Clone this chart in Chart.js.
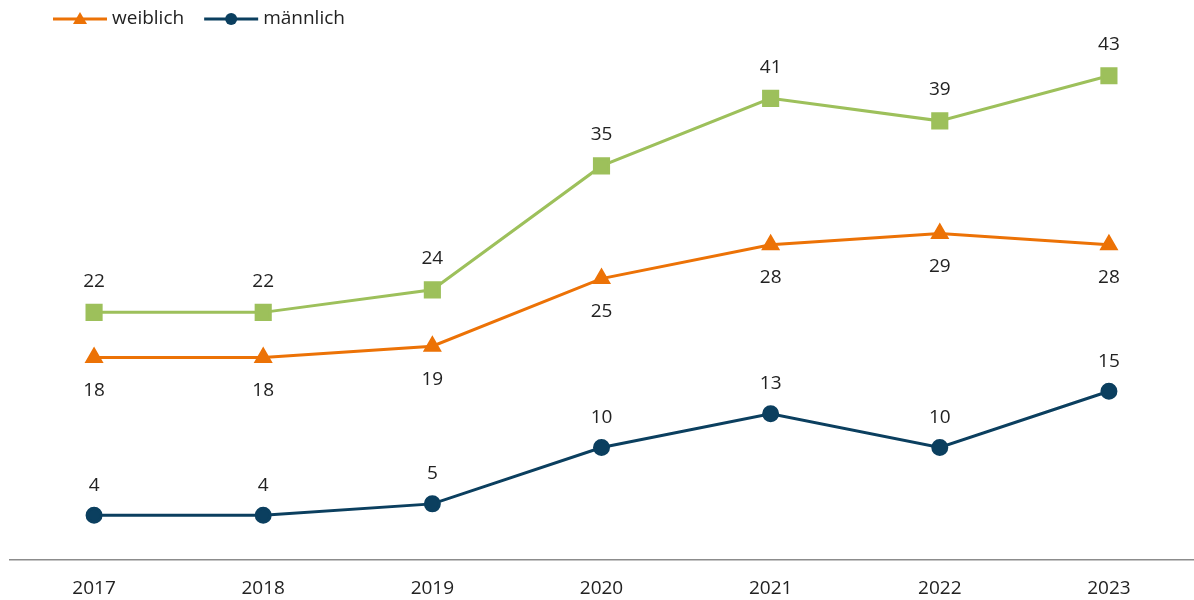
<!DOCTYPE html>
<html>
<head>
<meta charset="utf-8">
<script src="https://cdn.jsdelivr.net/npm/chart.js@4"></script>
<style>
  html, body { margin: 0; padding: 0; background: #fff; }
  #wrap { width: 1194px; height: 600px; }
</style>
</head>
<body>
<div id="wrap"><canvas id="chart" width="1194" height="600"></canvas></div>
<script>
// Jahre und Werte je Gruppe
const years = ['2017', '2018', '2019', '2020', '2021', '2022', '2023'];
const gesamt = [22, 22, 24, 35, 41, 39, 43];
const weiblich = [18, 18, 19, 25, 28, 29, 28];
const maennlich = [4, 4, 5, 10, 13, 10, 15];

const FONT = "'Open Sans', 'Noto Sans', sans-serif";
const TEXT = '#222';
const SIZE = 19;

// Wertelabels über bzw. unter den Punkten
const valueLabels = {
  id: 'valueLabels',
  afterDatasetsDraw(chart) {
    const ctx = chart.ctx;
    ctx.save();
    ctx.font = SIZE + 'px ' + FONT;
    ctx.fillStyle = TEXT;
    ctx.textAlign = 'center';
    ctx.textBaseline = 'middle';
    chart.data.datasets.forEach((ds, i) => {
      const meta = chart.getDatasetMeta(i);
      const off = ds.labelOffset;
      meta.data.forEach((pt, j) => {
        ctx.fillText(String(ds.data[j]), pt.x, pt.y + off);
      });
    });
    ctx.restore();
  }
};

// Legende mit Linie und Marker, nur für weiblich/männlich
const lineLegend = {
  id: 'lineLegend',
  afterDraw(chart) {
    const ctx = chart.ctx;
    ctx.save();
    ctx.font = SIZE + 'px ' + FONT;
    ctx.textBaseline = 'middle';
    let x = 53;
    const y = 19;
    chart.data.datasets.forEach(ds => {
      if (!ds.inLegend) return;
      ctx.strokeStyle = ds.borderColor;
      ctx.lineWidth = 3;
      ctx.beginPath();
      ctx.moveTo(x, y);
      ctx.lineTo(x + 54, y);
      ctx.stroke();
      ctx.fillStyle = ds.borderColor;
      const cx = x + 27;
      ctx.beginPath();
      if (ds.pointStyle === 'triangle') {
        ctx.moveTo(cx, y - 7);
        ctx.lineTo(cx + 7, y + 5);
        ctx.lineTo(cx - 7, y + 5);
        ctx.closePath();
      } else {
        ctx.arc(cx, y, 6, 0, Math.PI * 2);
      }
      ctx.fill();
      ctx.fillStyle = TEXT;
      ctx.fillText(ds.label, x + 59, y);
      x += 59 + ctx.measureText(ds.label).width + 20;
    });
    ctx.restore();
  }
};

new Chart(document.getElementById('chart'), {
  type: 'line',
  data: {
    labels: years,
    datasets: [
      {
        label: 'gesamt',
        data: gesamt,
        borderColor: '#9dc05b',
        backgroundColor: '#9dc05b',
        borderWidth: 3,
        pointStyle: 'rect',
        pointRadius: 10,
        pointHoverRadius: 10,
        labelOffset: -31,
        inLegend: false
      },
      {
        label: 'weiblich',
        data: weiblich,
        borderColor: '#ec7206',
        backgroundColor: '#ec7206',
        borderWidth: 3,
        pointStyle: 'triangle',
        pointRadius: 8,
        pointHoverRadius: 8,
        labelOffset: 33,
        inLegend: true
      },
      {
        label: 'männlich',
        data: maennlich,
        borderColor: '#0b3f5f',
        backgroundColor: '#0b3f5f',
        borderWidth: 3,
        pointStyle: 'circle',
        pointRadius: 7,
        pointHoverRadius: 7,
        labelOffset: -30,
        inLegend: true
      }
    ]
  },
  options: {
    responsive: false,
    animation: false,
    layout: {
      autoPadding: false,
      padding: { left: 9.5, right: 0.5, top: 42, bottom: 0 }
    },
    plugins: {
      legend: { display: false },
      tooltip: { enabled: false }
    },
    scales: {
      x: {
        offset: true,
        grid: { display: false, drawTicks: true, tickLength: 17 },
        border: { display: true, color: '#8c8c8c', width: 1.5 },
        ticks: {
          color: TEXT,
          font: { family: FONT, size: SIZE },
          padding: 0
        }
      },
      y: {
        display: false,
        min: 0,
        max: 46
      }
    }
  },
  plugins: [valueLabels, lineLegend]
});
</script>
</body>
</html>
